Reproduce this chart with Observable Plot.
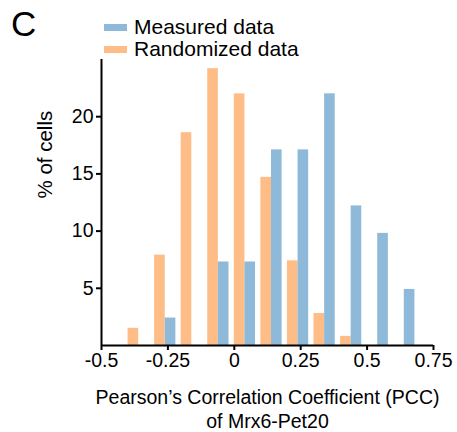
<!DOCTYPE html>
<html>
<head>
<meta charset="utf-8">
<script src="https://cdn.jsdelivr.net/npm/d3@7"></script>
<script src="https://cdn.jsdelivr.net/npm/@observablehq/plot@0.6"></script>
<style>
  html, body { margin: 0; padding: 0; background: #fff; }
  #wrap { position: relative; width: 457px; height: 432px; font-family: "Liberation Sans", Arial, Helvetica, sans-serif; }
  #panel { position: absolute; left: 11px; top: 6px; font-size: 35px; line-height: 1; color: #000; }
  #legend { position: absolute; left: 104px; top: 16px; font-size: 21px; line-height: 22px; color: #000; }
  .item { display: flex; align-items: center; height: 22px; }
  .sw { width: 23px; height: 7px; margin-right: 7px; }
</style>
</head>
<body>
<div id="wrap">
  <div id="chart"></div>
  <div id="panel">C</div>
  <div id="legend"></div>
</div>
<script>
const binCenters = [-0.36, -0.26, -0.16, -0.06, 0.04, 0.14, 0.24, 0.34, 0.44, 0.54, 0.64];
const measured   = [0, 2.4, 0, 7.3, 7.3, 17.1, 17.1, 22.0, 12.2, 9.8, 4.9];
const randomized = [1.5, 7.9, 18.6, 24.2, 22.0, 14.7, 7.4, 2.8, 0.8, 0, 0];
const seriesNames = ["Measured data", "Randomized data"];
const seriesColors = ["#8fb9d8", "#febd86"];
const xTicks = [-0.5, -0.25, 0, 0.25, 0.5, 0.75];
const yTicks = [5, 10, 15, 20];
const xLabel = "Pearson\u2019s Correlation Coefficient (PCC)\nof Mrx6-Pet20";
const yLabel = "% of cells";

const barWidth = 0.04;
const rows = [];
binCenters.forEach((c, i) => {
  if (randomized[i] > 0) rows.push({series: seriesNames[1], x1: c - barWidth, x2: c, v: randomized[i]});
  if (measured[i] > 0) rows.push({series: seriesNames[0], x1: c, x2: c + barWidth, v: measured[i]});
});

const font = "'Liberation Sans', Arial, Helvetica, sans-serif";
const chart = Plot.plot({
  width: 457,
  height: 432,
  marginLeft: 101,
  marginRight: 24,
  marginTop: 59,
  marginBottom: 87,
  style: {fontFamily: font, fontSize: "19.5px", color: "#000", background: "transparent"},
  x: {domain: [-0.5, 0.75]},
  y: {domain: [0, 25]},
  color: {domain: seriesNames, range: seriesColors},
  marks: [
    Plot.rectY(rows, {x1: "x1", x2: "x2", y1: 0, y2: "v", fill: "series"}),
    Plot.axisX({ticks: xTicks, tickFormat: () => "", tickSize: 5, strokeWidth: 2, label: null}),
    Plot.axisY({ticks: yTicks, tickFormat: () => "", tickSize: 5, strokeWidth: 2, label: null}),
    Plot.axisX({ticks: xTicks, tickFormat: d => String(d), tickSize: 0, tickPadding: 8, label: null, fontSize: "19.5px", stroke: "none", fill: "#000"}),
    Plot.axisY({ticks: yTicks, tickFormat: d => String(d), tickSize: 0, tickPadding: 8, label: null, fontSize: "19.5px", stroke: "none", fill: "#000"}),
    Plot.ruleY([0], {stroke: "#000", strokeWidth: 2}),
    Plot.ruleX([-0.5], {stroke: "#000", strokeWidth: 2}),
    Plot.text([xLabel], {frameAnchor: "bottom", lineAnchor: "top", dy: 41, lineHeight: 1.256, text: d => d, fontSize: 19.5, fill: "#000"}),
    Plot.text([yLabel], {frameAnchor: "left", rotate: -90, lineAnchor: "middle", dx: -56, dy: -4, text: d => d, fontSize: 20.5, fill: "#000"})
  ]
});
document.getElementById("chart").appendChild(chart);

const legend = document.getElementById("legend");
seriesNames.forEach((name, i) => {
  const item = document.createElement("div");
  item.className = "item";
  const sw = document.createElement("div");
  sw.className = "sw";
  sw.style.background = seriesColors[i];
  const t = document.createElement("span");
  t.textContent = name;
  item.appendChild(sw);
  item.appendChild(t);
  legend.appendChild(item);
});
</script>
</body>
</html>
